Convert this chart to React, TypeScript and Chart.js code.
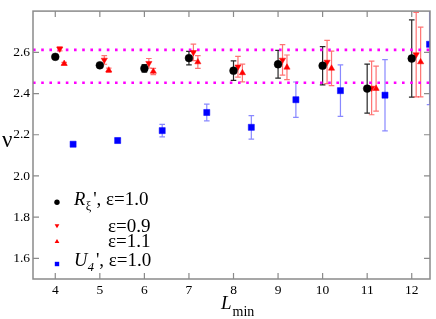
import React, { useEffect, useRef } from "react";
import { Chart, registerables } from "chart.js";

Chart.register(...registerables);

// ---- data ----
const L = [4, 5, 6, 7, 8, 9, 10, 11, 12];
const nuR10 = [2.578, 2.537, 2.522, 2.572, 2.511, 2.542, 2.535, 2.424, 2.570];
const errR10 = [0.006, 0.008, 0.018, 0.033, 0.047, 0.067, 0.093, 0.119, 0.187];
const nuR09 = [2.617, 2.563, 2.547, 2.600, 2.530, 2.563, 2.553, 2.427, 2.589];
const errR09 = [0.010, 0.021, 0.023, 0.040, 0.050, 0.074, 0.105, 0.130, 0.205];
const nuR11 = [2.545, 2.513, 2.507, 2.553, 2.500, 2.527, 2.522, 2.424, 2.553];
const errR11 = [0.006, 0.010, 0.015, 0.031, 0.043, 0.060, 0.084, 0.109, 0.169];
const nuU4 = [2.154, 2.172, 2.220, 2.308, 2.236, 2.370, 2.414, 2.392, 2.639];
const errU4 = [0.005, 0.010, 0.030, 0.041, 0.057, 0.086, 0.125, 0.173, 0.293];
const refLines = [2.612, 2.452];
const xTicks = [4, 5, 6, 7, 8, 9, 10, 11, 12];
const yTicks = [1.6, 1.8, 2.0, 2.2, 2.4, 2.6];
const OFF_R10 = 0;
const OFF_R09 = 0.1;
const OFF_R11 = 0.2;
const OFF_U4 = 0.4;
const X_MIN = 3.5;
const X_MAX = 12.41;
const Y_MIN = 1.5;
const Y_MAX = 2.8;

const SERIF = '"Liberation Serif", "Times New Roman", serif';

export default function App() {
  const ref = useRef<HTMLCanvasElement>(null);

  useEffect(() => {
    const canvas = ref.current;
    if (!canvas) return;

    const series = [
      { xs: L.map((v) => v + OFF_R10), ys: nuR10, errs: errR10, style: "circle", radius: 3.9, rot: 0, color: "#000000", errColor: "rgba(0,0,0,0.85)" },
      { xs: L.map((v) => v + OFF_R09), ys: nuR09, errs: errR09, style: "triangle", radius: 3.6, rot: 180, color: "#ff0000", errColor: "rgba(255,40,40,0.65)" },
      { xs: L.map((v) => v + OFF_R11), ys: nuR11, errs: errR11, style: "triangle", radius: 3.6, rot: 0, color: "#ff0000", errColor: "rgba(255,40,40,0.65)" },
      { xs: L.map((v) => v + OFF_U4), ys: nuU4, errs: errU4, style: "rect", radius: 4.3, rot: 0, color: "#0000ff", errColor: "rgba(40,40,255,0.55)" },
    ];

    const datasets: any[] = series.map((s) => ({
      type: "scatter",
      data: s.xs.map((x, i) => ({ x, y: s.ys[i] })),
      pointStyle: s.style,
      pointRadius: s.radius,
      pointRotation: s.rot,
      backgroundColor: s.color,
      borderColor: s.color,
      borderWidth: 0.5,
      showLine: false,
    }));
    refLines.forEach((v) =>
      datasets.push({
        type: "line",
        data: [
          { x: X_MIN, y: v },
          { x: X_MAX, y: v },
        ],
        borderColor: "#ff00ff",
        borderWidth: 2.6,
        borderDash: [2.6, 5.6],
        borderCapStyle: "butt",
        pointRadius: 0,
        fill: false,
      })
    );

    const errorBars = {
      id: "errorBars",
      beforeDatasetsDraw(chart: any) {
        const { ctx, chartArea, scales } = chart;
        ctx.save();
        ctx.beginPath();
        ctx.rect(chartArea.left, chartArea.top, chartArea.right - chartArea.left, chartArea.bottom - chartArea.top);
        ctx.clip();
        series.forEach((s) => {
          ctx.strokeStyle = s.errColor;
          ctx.lineWidth = 1.2;
          s.xs.forEach((xv, i) => {
            const x = scales.x.getPixelForValue(xv);
            const y1 = scales.y.getPixelForValue(s.ys[i] + s.errs[i]);
            const y2 = scales.y.getPixelForValue(s.ys[i] - s.errs[i]);
            ctx.beginPath();
            ctx.moveTo(x, y1);
            ctx.lineTo(x, y2);
            ctx.moveTo(x - 2.8, y1);
            ctx.lineTo(x + 2.8, y1);
            ctx.moveTo(x - 2.8, y2);
            ctx.lineTo(x + 2.8, y2);
            ctx.stroke();
          });
        });
        ctx.restore();
      },
    };

    const decor = {
      id: "decor",
      afterDraw(chart: any) {
        const { ctx, chartArea, scales } = chart;
        const { left, right, top, bottom } = chartArea;
        ctx.save();
        // frame
        ctx.strokeStyle = "#8a8a8a";
        ctx.lineWidth = 1.5;
        ctx.strokeRect(left, top, right - left, bottom - top);
        // inside ticks
        ctx.lineWidth = 1.2;
        ctx.beginPath();
        xTicks.forEach((v) => {
          const x = scales.x.getPixelForValue(v);
          ctx.moveTo(x, bottom);
          ctx.lineTo(x, bottom - 6);
          ctx.moveTo(x, top);
          ctx.lineTo(x, top + 6);
        });
        yTicks.forEach((v) => {
          const y = scales.y.getPixelForValue(v);
          ctx.moveTo(left, y);
          ctx.lineTo(left + 6, y);
          ctx.moveTo(right, y);
          ctx.lineTo(right - 6, y);
        });
        ctx.stroke();

        // axis titles
        ctx.fillStyle = "#000";
        ctx.textBaseline = "alphabetic";
        ctx.textAlign = "left";
        ctx.font = `23px ${SERIF}`;
        ctx.fillText("ν", 2, 147);
        ctx.font = `italic 19px ${SERIF}`;
        ctx.fillText("L", 221, 309);
        const lw = ctx.measureText("L").width;
        ctx.font = `14px ${SERIF}`;
        ctx.fillText("min", 221 + lw + 1, 316);

        // legend markers
        const mx = 57;
        ctx.fillStyle = "#000";
        ctx.beginPath();
        ctx.arc(mx, 202.3, 2.7, 0, Math.PI * 2);
        ctx.fill();
        ctx.fillStyle = "#ff0000";
        ctx.beginPath();
        ctx.moveTo(mx - 2.4, 224.2);
        ctx.lineTo(mx + 2.4, 224.2);
        ctx.lineTo(mx, 228.2);
        ctx.closePath();
        ctx.fill();
        ctx.beginPath();
        ctx.moveTo(mx - 2.4, 243);
        ctx.lineTo(mx + 2.4, 243);
        ctx.lineTo(mx, 239);
        ctx.closePath();
        ctx.fill();
        ctx.fillStyle = "#0000ff";
        ctx.fillRect(mx - 2.2, 261.8, 4.4, 4.4);

        // legend texts
        ctx.fillStyle = "#000";
        const drawRich = (main: string, sub: string, subItalic: boolean, base: number) => {
          let x = 74;
          ctx.font = `italic 18.5px ${SERIF}`;
          ctx.fillText(main, x, base);
          x += ctx.measureText(main).width + 0.5;
          ctx.font = `${subItalic ? "italic " : ""}12.5px ${SERIF}`;
          ctx.fillText(sub, x, base + 5);
          x += ctx.measureText(sub).width + 1.8;
          ctx.font = `19px ${SERIF}`;
          ctx.fillText("'", x, base);
          x += ctx.measureText("'").width;
          ctx.fillText(", ε=1.0", x, base);
        };
        drawRich("R", "ξ", false, 205);
        ctx.font = `19px ${SERIF}`;
        ctx.fillText("ε=0.9", 108, 231.5);
        ctx.fillText("ε=1.1", 108, 247.3);
        drawRich("U", "4", true, 265.5);
        ctx.restore();
      },
    };

    const chart = new Chart(canvas, {
      type: "scatter",
      data: { datasets },
      options: {
        animation: false,
        responsive: false,
        layout: { padding: { left: 0, right: 6, top: 1, bottom: 0 } },
        plugins: { legend: { display: false }, tooltip: { enabled: false } },
        scales: {
          x: {
            type: "linear",
            min: X_MIN,
            max: X_MAX,
            afterBuildTicks: (s: any) => {
              s.ticks = xTicks.map((v) => ({ value: v }));
            },
            afterFit: (s: any) => {
              s.height = 40;
            },
            grid: { display: false, drawTicks: false, tickLength: 0 },
            border: { display: false },
            ticks: {
              font: { family: SERIF, size: 13.5 },
              color: "#000",
              padding: 3,
              maxRotation: 0,
              autoSkip: false,
              callback: (v: any) => String(v),
            },
          },
          y: {
            type: "linear",
            min: Y_MIN,
            max: Y_MAX,
            afterBuildTicks: (s: any) => {
              s.ticks = yTicks.map((v) => ({ value: v }));
            },
            afterFit: (s: any) => {
              s.width = 33;
            },
            grid: { display: false, drawTicks: false, tickLength: 0 },
            border: { display: false },
            ticks: {
              font: { family: SERIF, size: 13.5 },
              color: "#000",
              padding: 3,
              autoSkip: false,
              callback: (v: any) => Number(v).toFixed(1),
            },
          },
        },
      },
      plugins: [errorBars, decor],
    } as any);

    return () => chart.destroy();
  }, []);

  return (
    <div style={{ position: "absolute", left: 0, top: 0, width: 436, height: 319, background: "#fff" }}>
      <canvas ref={ref} width={436} height={319} style={{ display: "block", width: 436, height: 319 }} />
    </div>
  );
}
